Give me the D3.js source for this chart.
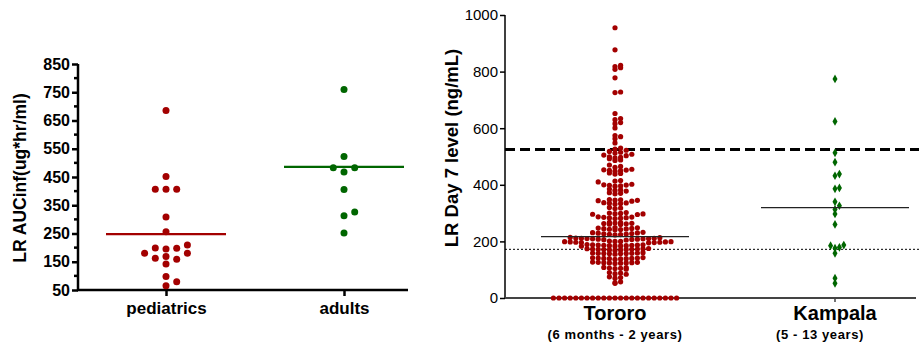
<!DOCTYPE html>
<html>
<head>
<meta charset="utf-8">
<script src="https://cdn.jsdelivr.net/npm/d3@7"></script>
<style>
  body { margin: 0; background: #fff; }
  svg { display: block; font-family: Arial, "Liberation Sans", sans-serif; }
</style>
</head>
<body>
<svg id="chart" width="919" height="344"></svg>
<script>
// ---- left panel data ----
const leftCategories = ['pediatrics', 'adults'];
const pediatrics = [685, 452, 407, 407, 407, 308, 256, 209, 199, 198, 195, 180, 180, 169, 162, 159, 142, 98, 79, 65];
const adults = [760, 523, 483, 483, 468, 406, 326, 313, 252];
const leftLines = [248, 486];
const leftTicks = [50, 150, 250, 350, 450, 550, 650, 750, 850];

// ---- right panel data ----
const rightCategories = ['Tororo', 'Kampala'];
const rightSubLabels = ['(6 months - 2 years)', '(5 - 13 years)'];
const tororo = [
  955, 877, 822, 818, 814, 808, 778, 728, 726, 652, 634, 630, 620, 616, 601,
  574, 570, 563, 548, 530, 526, 522, 518, 515, 512, 508, 505, 503,
  499, 497, 495, 492, 488, 486, 470, 465, 462, 455, 453, 452, 451, 450, 448, 442, 440, 438,
  415, 413, 410, 402, 400, 399, 398, 396, 395, 385, 382, 380, 378, 372, 370, 368,
  348, 347, 346, 345, 344, 342, 337, 336, 335, 334, 332, 320, 318, 316,
  302, 300, 299, 298, 297, 296, 295,
  287, 286, 285, 284, 283, 282, 281,
  267, 266, 265, 264, 263, 262, 261, 260,
  249, 248, 247, 246, 245, 244, 243, 242, 241,
  232, 231, 230, 229, 228, 227, 226, 225, 224, 223,
  214, 213, 212, 211, 211, 210, 210, 209, 209, 208, 208, 207, 206, 205,
  201, 200, 200, 199, 199, 198, 198, 197, 197, 196, 196, 195,
  189, 188, 188, 187, 187, 186, 186, 185, 185, 184, 184, 183,
  175, 174, 174, 173, 173, 172, 172, 171, 171, 170, 170, 169,
  160, 159, 159, 158, 158, 157, 157, 156, 156, 155,
  143, 142, 141, 141, 140, 140, 139, 139, 138, 137,
  127, 126, 126, 125, 125, 124, 124, 123, 122,
  108, 107, 106, 105, 104, 102,
  90, 88, 86, 84,
  75, 72, 70,
  57, 54, 52,
  0, 0, 0, 0, 0, 0, 0, 0, 0, 0, 0, 0, 0, 0, 0, 0, 0, 0, 0, 0, 0, 0, 0
];
const kampala = [774, 624, 513, 480, 438, 432, 389, 386, 340, 326, 313, 297, 260, 187, 185, 179, 176, 158, 70, 52];
const rightLines = [217, 319];
const upperRef = 525;
const lowerRef = 172;
const rightTicks = [0, 200, 400, 600, 800, 1000];

const red = '#a30000';
const green = '#006600';

const svg = d3.select('#chart');

// simple beeswarm: place each point at the nearest free column offset
function swarm(values, cx, y, r, step) {
  const pts = values.map(v => ({ v: v, y: y(v) })).sort((a, b) => a.v - b.v);
  const placed = [];
  const minD = 2 * r * 0.95;
  pts.forEach(p => {
    for (let k = 0; k < 60; k++) {
      const off = (k % 2 === 1 ? 1 : -1) * Math.ceil(k / 2) * step;
      const x = cx + off;
      const hit = placed.some(q => {
        const dx = q.x - x, dy = q.y - p.y;
        return dx * dx + dy * dy < minD * minD;
      });
      if (!hit) { p.x = x; placed.push(p); break; }
    }
  });
  return placed;
}

// row swarm (prism style): bin by pixel row, lay each row out side by side
function rowSwarm(values, cx, y, step, rowH) {
  const rows = d3.group(values.map(v => ({ v: v, y: y(v) })), d => Math.round(d.y / rowH));
  const out = [];
  rows.forEach(row => {
    row.sort((a, b) => a.v - b.v).forEach((p, k) => {
      p.x = cx + (k % 2 === 1 ? 1 : -1) * Math.ceil(k / 2) * step;
      out.push(p);
    });
  });
  return out;
}

// ================= LEFT PANEL =================
const yL = d3.scaleLinear().domain([50, 850]).range([290, 64]);
const xL = d3.scalePoint().domain(leftCategories).range([166, 344]);
const axisLeftX = 78;

const gL = svg.append('g');

// y axis
gL.append('line')
  .attr('x1', axisLeftX).attr('x2', axisLeftX)
  .attr('y1', yL(850)).attr('y2', yL(50) + 1)
  .attr('stroke', '#000').attr('stroke-width', 2.5);

const yAxisL = gL.append('g')
  .attr('transform', `translate(${axisLeftX},0)`)
  .call(d3.axisLeft(yL).tickValues(leftTicks).tickSize(6).tickPadding(2));
yAxisL.select('.domain').remove();
yAxisL.selectAll('line').attr('stroke', '#000').attr('stroke-width', 2.5);
yAxisL.selectAll('text')
  .attr('font-size', 16).attr('font-weight', 'bold').attr('fill', '#000');

// minor ticks
gL.selectAll('.minorL')
  .data(d3.range(100, 850, 100))
  .join('line')
  .attr('x1', axisLeftX - 4).attr('x2', axisLeftX)
  .attr('y1', d => yL(d)).attr('y2', d => yL(d))
  .attr('stroke', '#000').attr('stroke-width', 2.5);

// x axis
gL.append('line')
  .attr('x1', axisLeftX - 1).attr('x2', 408)
  .attr('y1', yL(50)).attr('y2', yL(50))
  .attr('stroke', '#000').attr('stroke-width', 2.5);
const xAxisL = gL.append('g')
  .attr('transform', `translate(0,${yL(50)})`)
  .call(d3.axisBottom(xL).tickSize(6).tickPadding(6));
xAxisL.select('.domain').remove();
xAxisL.selectAll('line').attr('stroke', '#000').attr('stroke-width', 2.5);
xAxisL.selectAll('text')
  .attr('font-size', 17).attr('font-weight', 'bold').attr('fill', '#000');

// y title
gL.append('text')
  .attr('transform', `translate(26,178) rotate(-90)`)
  .attr('text-anchor', 'middle')
  .attr('font-size', 17.5).attr('font-weight', 'bold')
  .text('LR AUCinf(ug*hr/ml)');

// points + mean lines
[pediatrics, adults].forEach((vals, i) => {
  const color = i === 0 ? red : green;
  const cx = xL(leftCategories[i]);
  const pts = swarm(vals, cx, yL, 3.5, 10.7);
  gL.append('g').selectAll('circle')
    .data(pts)
    .join('circle')
    .attr('cx', d => d.x).attr('cy', d => d.y)
    .attr('r', 3.5)
    .attr('fill', color);
  gL.append('line')
    .attr('x1', cx - 60).attr('x2', cx + 60)
    .attr('y1', yL(leftLines[i])).attr('y2', yL(leftLines[i]))
    .attr('stroke', color).attr('stroke-width', 2.2);
});

// ================= RIGHT PANEL =================
const yR = d3.scaleLinear().domain([0, 1000]).range([298, 15]);
const xR = d3.scalePoint().domain(rightCategories).range([615, 835]);
const axisRightX = 505;

const gR = svg.append('g');

// reference lines
gR.append('line')
  .attr('x1', axisRightX).attr('x2', 919)
  .attr('y1', yR(upperRef)).attr('y2', yR(upperRef))
  .attr('stroke', '#000').attr('stroke-width', 3)
  .attr('stroke-dasharray', '10,5');
gR.append('line')
  .attr('x1', axisRightX).attr('x2', 919)
  .attr('y1', yR(lowerRef)).attr('y2', yR(lowerRef))
  .attr('stroke', '#000').attr('stroke-width', 1)
  .attr('stroke-dasharray', '2,2');

// y axis
gR.append('line')
  .attr('x1', axisRightX).attr('x2', axisRightX)
  .attr('y1', yR(1000)).attr('y2', yR(0))
  .attr('stroke', '#000').attr('stroke-width', 1.5);
const yAxisR = gR.append('g')
  .attr('transform', `translate(${axisRightX},0)`)
  .call(d3.axisLeft(yR).tickValues(rightTicks).tickFormat(d3.format('d')).tickSize(5).tickPadding(2));
yAxisR.select('.domain').remove();
yAxisR.selectAll('line').attr('stroke', '#000').attr('stroke-width', 1.5);
yAxisR.selectAll('text')
  .attr('font-size', 15).attr('fill', '#000');

// x axis
gR.append('line')
  .attr('x1', axisRightX).attr('x2', 916)
  .attr('y1', yR(0)).attr('y2', yR(0))
  .attr('stroke', '#444').attr('stroke-width', 2);
gR.append('line')
  .attr('x1', xR('Kampala')).attr('x2', xR('Kampala'))
  .attr('y1', yR(0)).attr('y2', yR(0) + 4)
  .attr('stroke', '#444').attr('stroke-width', 1.5);

// category labels
gR.selectAll('.catR')
  .data(rightCategories)
  .join('text')
  .attr('x', d => xR(d)).attr('y', 320)
  .attr('text-anchor', 'middle')
  .attr('font-size', 20).attr('font-weight', 'bold')
  .text(d => d);
gR.selectAll('.subR')
  .data(rightSubLabels)
  .join('text')
  .attr('x', (d, i) => xR(rightCategories[i]) - (i === 1 ? 15 : 0)).attr('y', 339)
  .attr('text-anchor', 'middle')
  .attr('font-size', 13).attr('font-weight', 'bold')
  .attr('letter-spacing', 0.6)
  .text(d => d);

// y title
gR.append('text')
  .attr('transform', `translate(458,148) rotate(-90)`)
  .attr('text-anchor', 'middle')
  .attr('font-size', 18.5).attr('font-weight', 'bold')
  .text('LR Day 7 level (ng/mL)');

// Tororo dots
const torPts = rowSwarm(tororo, xR('Tororo'), yR, 5.6, 4.6);
gR.append('g').selectAll('circle')
  .data(torPts)
  .join('circle')
  .attr('cx', d => d.x).attr('cy', d => d.y)
  .attr('r', 2.6)
  .attr('fill', red);

// Kampala dots
const kamPts = swarm(kampala, xR('Kampala'), yR, 2.2, 4.4);
gR.append('g').selectAll('path')
  .data(kamPts)
  .join('path')
  .attr('transform', d => `translate(${d.x},${d.y})`)
  .attr('d', d3.symbol(d3.symbolDiamond, 22))
  .attr('fill', green);

// mean lines
rightLines.forEach((v, i) => {
  const cx = xR(rightCategories[i]);
  gR.append('line')
    .attr('x1', cx - 74).attr('x2', cx + 74)
    .attr('y1', yR(v)).attr('y2', yR(v))
    .attr('stroke', '#222').attr('stroke-width', 1.3);
});
</script>
</body>
</html>
